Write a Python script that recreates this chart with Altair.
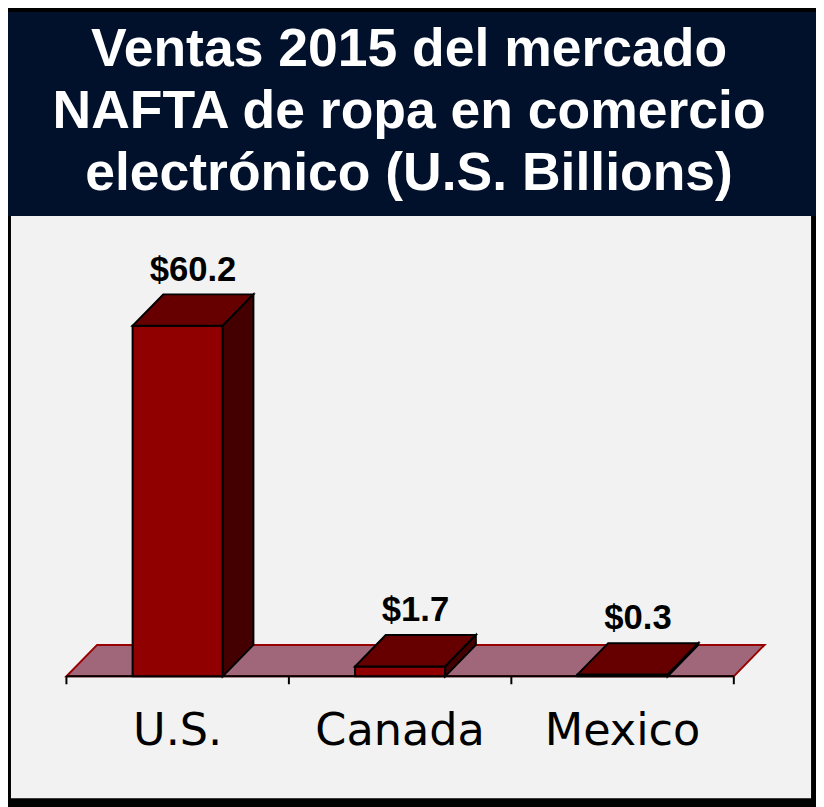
import altair as alt
import pandas as pd

# ---- data ----
CATEGORIES = ["U.S.", "Canada", "Mexico"]
VALUES = [60.2, 1.7, 0.3]
VALUE_LABELS = ["$60.2", "$1.7", "$0.3"]
TITLE_LINES = [
    "Ventas 2015 del mercado",
    "NAFTA de ropa en comercio",
    "electrónico (U.S. Billions)",
]

# ---- 3D styling constants (data units) ----
BAR_W = 0.405   # bar width as a fraction of a category band
DX = 0.138      # depth offset along x
DY = 5.4        # depth offset along y
N = len(CATEGORIES)

W, H = 816, 799

XS = alt.Scale(domain=[0, N], range=[59, 733], nice=False, zero=False)
YS = alt.Scale(domain=[0, max(VALUES)], range=[671, 317], nice=False)


def X(f):
    return alt.X(f, scale=XS, axis=None)


def Y(f):
    return alt.Y(f, scale=YS, axis=None)


pos = [i + 0.5 for i in range(N)]
bars = pd.DataFrame({"cat": CATEGORIES, "value": VALUES, "label": VALUE_LABELS, "pos": pos})
bars["left"] = bars["pos"] - BAR_W / 2
bars["right"] = bars["pos"] + BAR_W / 2
bars["zero"] = 0.0
bars["lx"] = bars["pos"] + DX / 2
bars["ly"] = bars["value"] + DY

top = pd.concat([
    pd.DataFrame({"cat": CATEGORIES, "y": bars["value"], "x": bars["left"], "x2": bars["right"]}),
    pd.DataFrame({"cat": CATEGORIES, "y": bars["value"] + DY, "x": bars["left"] + DX, "x2": bars["right"] + DX}),
], ignore_index=True)

side = pd.concat([
    pd.DataFrame({"cat": CATEGORIES, "x": bars["right"], "y": bars["value"], "y2": 0.0}),
    pd.DataFrame({"cat": CATEGORIES, "x": bars["right"] + DX, "y": bars["value"] + DY, "y2": DY}),
], ignore_index=True)

floor = pd.DataFrame({"k": ["f", "f"], "y": [0.0, DY], "x": [0.0, DX], "x2": [float(N), N + DX]})
ticks = pd.DataFrame({"b": list(range(N + 1)), "zero": 0.0})
axisline = pd.DataFrame({"a": [0.0], "b": [float(N)], "zero": [0.0]})

one = alt.Data(values=[{"k": 1}])

navy = alt.Chart(one).mark_rect(fill="#01102b").encode(
    x=alt.value(0), x2=alt.value(W), y=alt.value(0), y2=alt.value(206)
)
gray = alt.Chart(one).mark_rect(fill="#f2f2f2").encode(
    x=alt.value(3), x2=alt.value(811), y=alt.value(206), y2=alt.value(794)
)

floor_l = alt.Chart(floor).mark_area(
    orient="horizontal", fill="#a0667a", stroke="#990000", strokeWidth=2
).encode(y=Y("y:Q"), x=X("x:Q"), x2="x2:Q", detail="k:N")

axis_l = alt.Chart(axisline).mark_rule(color="black", strokeWidth=2).encode(
    x=X("a:Q"), x2="b:Q", y=Y("zero:Q")
)
ticks_l = alt.Chart(ticks).mark_rule(color="black", strokeWidth=2, y2Offset=8).encode(
    x=X("b:Q"), y=Y("zero:Q"), y2="zero:Q"
)

front_l = alt.Chart(bars).mark_rect(fill="#910000", stroke="black", strokeWidth=2).encode(
    x=X("left:Q"), x2="right:Q", y=Y("zero:Q"), y2="value:Q"
)
top_l = alt.Chart(top).mark_area(
    orient="horizontal", fill="#660000", stroke="black", strokeWidth=2
).encode(y=Y("y:Q"), x=X("x:Q"), x2="x2:Q", detail="cat:N")
side_l = alt.Chart(side).mark_area(
    orient="vertical", fill="#440000", stroke="black", strokeWidth=2
).encode(x=X("x:Q"), y=Y("y:Q"), y2="y2:Q", detail="cat:N")

vlabels = alt.Chart(bars).mark_text(
    font="Liberation Sans", fontWeight="bold", fontSize=35, dy=-14,
    baseline="alphabetic", align="center", color="black"
).encode(x=X("lx:Q"), y=Y("ly:Q"), text="label:N")

clabels = alt.Chart(bars).mark_text(
    font="DejaVu Sans", fontSize=45, baseline="alphabetic", align="center", color="black"
).encode(x=X("pos:Q"), y=alt.value(740), text="cat:N")

title = alt.Chart(one).mark_text(
    font="Liberation Sans", fontWeight="bold", fontSize=54, color="white",
    lineBreak="\n", lineHeight=62.5, baseline="alphabetic", align="center"
).encode(x=alt.value(405), y=alt.value(55), text=alt.value("\n".join(TITLE_LINES)))

chart = alt.layer(
    navy, gray, floor_l, axis_l, ticks_l, front_l, top_l, side_l, vlabels, clabels, title
).properties(
    width=W, height=H, autosize=alt.AutoSizeParams(type="none"), padding=0,
    background="#000000",
).configure_view(strokeWidth=0)

chart.save("out.html", embed_options={"renderer": "svg", "actions": False})
